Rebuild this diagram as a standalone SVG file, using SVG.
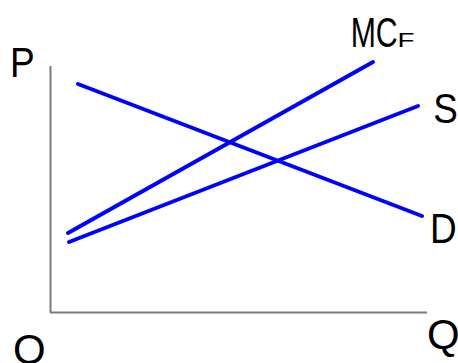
<svg xmlns="http://www.w3.org/2000/svg" width="458" height="363" viewBox="0 0 458 363">
<style>
.ax{stroke:#7a7a7a;stroke-width:2;fill:none}
.cv{stroke:#0000ff;stroke-width:4;stroke-linecap:round;fill:none}
.lb{font-family:"Liberation Sans",Arial,sans-serif;font-size:42px;fill:#000}
</style>
<rect width="458" height="363" fill="#fff"/>
<g id="axes">
<line class="ax" x1="50.5" y1="66" x2="50.5" y2="312.5"/>
<line class="ax" x1="50" y1="312.5" x2="427" y2="312.5"/>
</g>
<g id="connectors">
<line id="D-curve" class="cv" x1="78" y1="84" x2="422" y2="216"/>
<line id="S-curve" class="cv" x1="69" y1="242" x2="418" y2="106"/>
<line id="MCF-curve" class="cv" x1="68" y1="233" x2="373" y2="62"/>
</g>
<g id="label-P"><text class="lb" x="10" y="77" textLength="24.7" lengthAdjust="spacingAndGlyphs">P</text></g>
<g id="label-O"><text class="lb" x="13" y="364">O</text></g>
<g id="label-Q"><text class="lb" x="427" y="349">Q</text></g>
<g id="label-S"><text class="lb" x="433.3" y="123" textLength="24.6" lengthAdjust="spacingAndGlyphs">S</text></g>
<g id="label-D"><text class="lb" x="430" y="243" textLength="26.7" lengthAdjust="spacingAndGlyphs">D</text></g>
<g id="label-MCF"><text class="lb" x="350.7" y="47" textLength="47" lengthAdjust="spacingAndGlyphs">MC</text><text class="lb" x="397.5" y="47" style="font-size:21px" textLength="17" lengthAdjust="spacingAndGlyphs">F</text></g>
</svg>
